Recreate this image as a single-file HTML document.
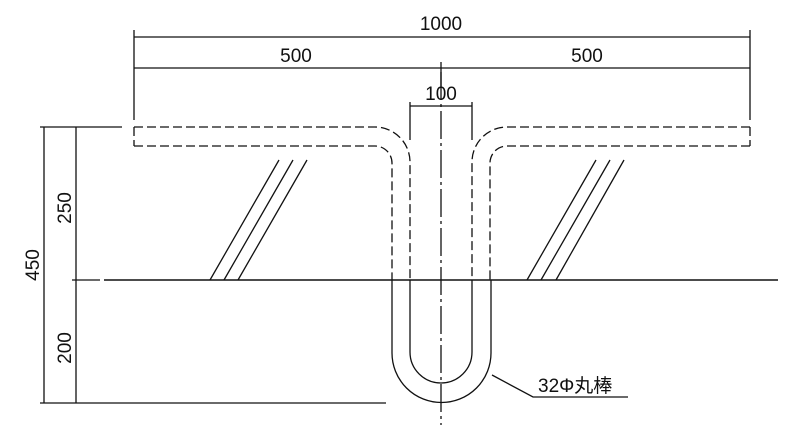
<!DOCTYPE html>
<html><head><meta charset="utf-8"><style>
html,body{margin:0;padding:0;background:#fff;}
svg{display:block;}
text{font-family:"Liberation Sans","Noto Sans CJK JP",sans-serif;font-size:19px;fill:#111;}
</style></head><body>
<svg width="800" height="436" viewBox="0 0 800 436" xmlns="http://www.w3.org/2000/svg">
<g stroke="#111" stroke-width="1.3" fill="none">
<line x1="134" y1="37" x2="750" y2="37"/>
<line x1="134" y1="68" x2="750" y2="68"/>
<line x1="134" y1="30" x2="134" y2="120"/>
<line x1="750" y1="30" x2="750" y2="120"/>
<line x1="441" y1="62" x2="441" y2="88"/>
<line x1="410" y1="106" x2="472" y2="106"/>
<line x1="410" y1="102" x2="410" y2="140"/>
<line x1="472" y1="102" x2="472" y2="140"/>
<line x1="44" y1="127" x2="44" y2="403"/>
<line x1="76" y1="127" x2="76" y2="403"/>
<line x1="40" y1="127" x2="122" y2="127"/>
<line x1="40" y1="403" x2="386" y2="403"/>
<line x1="72" y1="280" x2="100" y2="280"/>
<line x1="104" y1="280" x2="778" y2="280" stroke-width="1.6"/>
<g stroke-dasharray="9,4">
<path d="M134 127 L134 146"/>
<path d="M134 127 L375 127 A35 35 0 0 1 410 162 L410 280"/>
<path d="M134 146 L375 146 A17 17 0 0 1 392 163 L392 280"/>
<path d="M750 127 L750 146"/>
<path d="M750 127 L507 127 A35 35 0 0 0 472 162 L472 280"/>
<path d="M750 146 L507 146 A17 17 0 0 0 490 163 L490 280"/>
</g>
<path d="M392 280 L392 353 A49.5 49.5 0 0 0 491 353 L491 280"/>
<path d="M410 280 L410 352 A31 31 0 0 0 472 352 L472 280"/>
<line x1="441" y1="72" x2="441" y2="425" stroke-dasharray="28,4,3,4"/>
<line x1="279" y1="160" x2="210" y2="280"/>
<line x1="293" y1="160" x2="224" y2="280"/>
<line x1="307" y1="160" x2="238" y2="280"/>
<line x1="596" y1="160" x2="527" y2="280"/>
<line x1="610" y1="160" x2="541" y2="280"/>
<line x1="624" y1="160" x2="556" y2="280"/>
<polyline points="492,375 533,397 628,397"/>
</g>
<text x="441" y="30" text-anchor="middle">1000</text>
<text x="296" y="62" text-anchor="middle">500</text>
<text x="587" y="62" text-anchor="middle">500</text>
<text x="441" y="100" text-anchor="middle">100</text>
<text transform="translate(39,265) rotate(-90)" text-anchor="middle">450</text>
<text transform="translate(71,208) rotate(-90)" text-anchor="middle">250</text>
<text transform="translate(71,348) rotate(-90)" text-anchor="middle">200</text>
<text x="538" y="392">32Φ丸棒</text>
</svg>
</body></html>
